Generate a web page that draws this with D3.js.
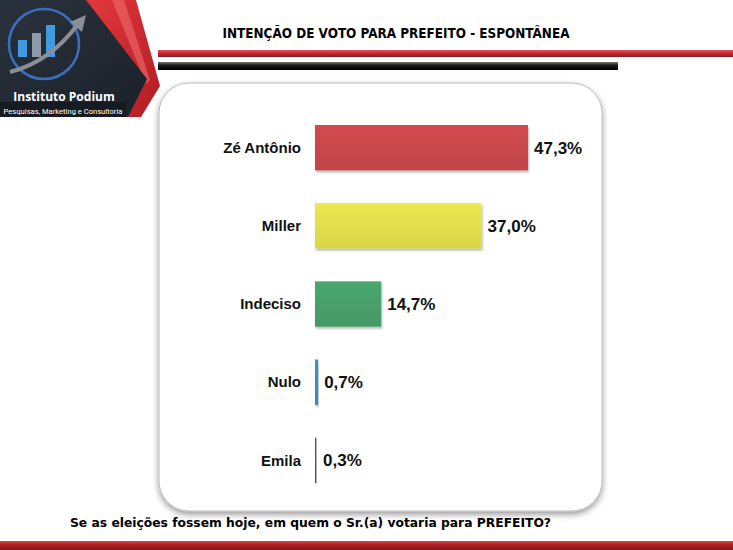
<!DOCTYPE html>
<html><head><meta charset="utf-8">
<script src="https://cdn.jsdelivr.net/npm/d3@7/dist/d3.min.js"></script>
<style>html,body{margin:0;padding:0;background:#fff;overflow:hidden}</style>
</head><body>
<script>
const categories = ["Zé Antônio", "Miller", "Indeciso", "Nulo", "Emila"];
const values = [47.3, 37.0, 14.7, 0.7, 0.3];
const valueLabels = ["47,3%", "37,0%", "14,7%", "0,7%", "0,3%"];
const barColors = ["#c9474b", "#e1df4c", "#48a06a", "#3b8fb8", "#4b5b68"];
const titleText = "INTENÇÃO DE VOTO PARA PREFEITO - ESPONTÂNEA";
const footerText = "Se as eleições fossem hoje, em quem o Sr.(a) votaria para PREFEITO?";

const W = 733, H = 550;
const svg = d3.select("body").append("svg").attr("width", W).attr("height", H);
const defs = svg.append("defs");

const sh = defs.append("filter").attr("id","panelShadow").attr("x","-10%").attr("y","-10%").attr("width","120%").attr("height","125%");
sh.append("feDropShadow").attr("dx",0).attr("dy",3).attr("stdDeviation",3).attr("flood-color","#000").attr("flood-opacity",0.4);
const bsh = defs.append("filter").attr("id","barShadow").attr("x","-10%").attr("y","-20%").attr("width","130%").attr("height","150%");
bsh.append("feDropShadow").attr("dx",1).attr("dy",2).attr("stdDeviation",1.2).attr("flood-color","#000").attr("flood-opacity",0.28);

function vgrad(id, stops){
  const g = defs.append("linearGradient").attr("id",id).attr("x1",0).attr("y1",0).attr("x2",0).attr("y2",1);
  stops.forEach(s=>g.append("stop").attr("offset",s[0]).attr("stop-color",s[1]));
}
vgrad("redLine",[[0,"#e0575c"],[0.5,"#c1272d"],[1,"#8e1a1f"]]);
vgrad("blackLine",[[0,"#7a7a7a"],[0.4,"#1a1a1a"],[1,"#000"]]);
vgrad("bottomBar",[[0,"#d8474c"],[0.4,"#b31f25"],[1,"#7e1519"]]);
barColors.forEach((c,i)=>{
  const base = d3.color(c);
  vgrad("bar"+i,[[0,base.brighter(0.12)],[0.5,base],[1,base.darker(0.12)]]);
});
const lg = defs.append("linearGradient").attr("id","logoRed").attr("x1",0).attr("y1",0).attr("x2",1).attr("y2",1);
lg.append("stop").attr("offset",0).attr("stop-color","#e4393e");
lg.append("stop").attr("offset",1).attr("stop-color","#b01d22");
const lb = defs.append("linearGradient").attr("id","logoBg").attr("x1",0).attr("y1",0).attr("x2",1).attr("y2",1);
lb.append("stop").attr("offset",0).attr("stop-color","#2a323d");
lb.append("stop").attr("offset",1).attr("stop-color","#1b2129");

// header lines
svg.append("rect").attr("x",158).attr("y",50).attr("width",W-158).attr("height",7).attr("fill","url(#redLine)");
svg.append("rect").attr("x",158).attr("y",62).attr("width",460).attr("height",8).attr("fill","url(#blackLine)");

// logo
const logo = svg.append("g");
logo.append("polygon").attr("points","80,0 136,0 160,86 141,117 126,117").attr("fill","url(#logoRed)");
logo.append("polygon").attr("points","112,0 124,0 150,80 146,84").attr("fill","#f06a6e").attr("opacity",0.6);
logo.append("polygon").attr("points","0,0 86,0 147,79 128,117 0,117").attr("fill","url(#logoBg)");
logo.append("rect").attr("x",0).attr("y",102).attr("width",126).attr("height",15).attr("fill","#161b21");
logo.append("circle").attr("cx",44).attr("cy",44).attr("r",35).attr("fill","none").attr("stroke","#3b6fc0").attr("stroke-width",2.5);
[[18,40,9,17],[32,33,9,24],[46,25,9,32]].forEach((b,i)=>{
  logo.append("rect").attr("x",b[0]).attr("y",b[1]).attr("width",b[2]).attr("height",b[3])
    .attr("fill", i===1 ? "#8d9aa8" : "#3f9ae0");
});
logo.append("path").attr("d","M10,72 Q50,62 78,24").attr("fill","none").attr("stroke","#8a8f96").attr("stroke-width",4);
logo.append("polygon").attr("points","70,22 86,15 82,32").attr("fill","#8a8f96");
logo.append("text").attr("x",64).attr("y",101).attr("text-anchor","middle")
  .attr("font-family","'Open Sans', 'DejaVu Sans', sans-serif").attr("font-weight","bold").attr("font-size",12)
  .attr("fill","#fff").text("Instituto Podium");
logo.append("text").attr("x",63).attr("y",113.5).attr("text-anchor","middle")
  .attr("font-family","Roboto, 'Liberation Sans', sans-serif").attr("font-size",7.6)
  .attr("fill","#fff").text("Pesquisas, Marketing e Consultoria");

// title
svg.append("text").attr("x",396).attr("y",38).attr("text-anchor","middle")
  .attr("font-family","'DejaVu Sans Condensed', 'DejaVu Sans', sans-serif").attr("font-weight","bold").attr("font-size",14.5)
  .attr("textLength",347).attr("lengthAdjust","spacingAndGlyphs")
  .attr("fill","#000").text(titleText);

// panel
svg.append("rect").attr("x",159).attr("y",83).attr("width",443).attr("height",428).attr("rx",30).attr("ry",30)
  .attr("fill","#fff").attr("stroke","#bdbdbd").attr("stroke-width",1).attr("filter","url(#panelShadow)");

// chart
const x = d3.scaleLinear().domain([0, 47.3]).range([315, 528]);
const y = d3.scaleBand().domain(categories).range([125, 483]).paddingInner(0.42).paddingOuter(0);

const g = svg.append("g");
g.selectAll("rect.bar").data(categories).join("rect").attr("class","bar")
  .attr("x", x(0)).attr("y", d=>y(d))
  .attr("width", (d,i)=>Math.max(x(values[i])-x(0), 0))
  .attr("height", y.bandwidth())
  .attr("fill", (d,i)=>"url(#bar"+i+")")
  .attr("filter","url(#barShadow)");

g.selectAll("text.cat").data(categories).join("text").attr("class","cat")
  .attr("x", 301).attr("y", d=>y(d)+y.bandwidth()/2).attr("dy","0.35em")
  .attr("text-anchor","end").attr("font-family","'Liberation Sans', Arial, sans-serif")
  .attr("font-weight","bold").attr("font-size",15).attr("fill","#111").text(d=>d);

g.selectAll("text.val").data(categories).join("text").attr("class","val")
  .attr("x", (d,i)=>Math.max(x(values[i]), x(0)+2) + 6).attr("y", d=>y(d)+y.bandwidth()/2).attr("dy","0.35em")
  .attr("font-family","'Liberation Sans', Arial, sans-serif")
  .attr("font-weight","bold").attr("font-size",17).attr("fill","#111").text((d,i)=>valueLabels[i]);

// footer
svg.append("text").attr("x",70).attr("y",527)
  .attr("font-family","'DejaVu Sans Condensed', 'DejaVu Sans', sans-serif").attr("font-weight","bold").attr("font-size",13)
  .attr("textLength",481).attr("lengthAdjust","spacingAndGlyphs")
  .attr("fill","#000").text(footerText);
svg.append("rect").attr("x",0).attr("y",541).attr("width",W).attr("height",9).attr("fill","url(#bottomBar)");
</script>
</body></html>
